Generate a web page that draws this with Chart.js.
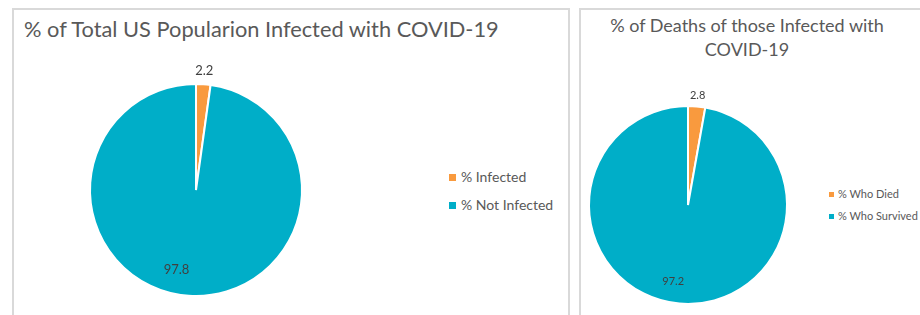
<!DOCTYPE html>
<html>
<head>
<meta charset="utf-8">
<script src="https://cdn.jsdelivr.net/npm/chart.js@4.4.0/dist/chart.umd.min.js"></script>
<style>
  body { margin: 0; width: 920px; height: 315px; overflow: hidden; background: #fff; position: relative; font-family: Lato, "Open Sans", sans-serif; color: #595959; }
  .panel { position: absolute; border: 2px solid #d9d9d9; border-bottom: none; box-sizing: border-box; }
  #p1 { left: 12px; top: 8px; width: 558px; height: 320px; }
  #p2 { left: 579px; top: 8px; width: 360px; height: 320px; }
  .title1 { position: absolute; left: 24px; top: 15px; font-size: 21.8px; white-space: nowrap; }
  .title2 { position: absolute; left: 590px; width: 314px; top: 13px; font-size: 18px; line-height: 24px; text-align: center; }
  .legend { position: absolute; white-space: nowrap; }
  .legend div { position: relative; }
  .legend span.box { display: inline-block; }
  #lg1 { left: 449px; top: 163px; font-size: 14px; line-height: 28px; }
  #lg1 span.box { width: 7px; height: 7px; margin-right: 5px; vertical-align: 1px; }
  #lg2 { left: 829px; top: 183px; font-size: 11px; line-height: 22px; }
  #lg2 span.box { width: 5px; height: 5px; margin-right: 4px; vertical-align: 1px; }
  canvas { position: absolute; }
  #c1 { left: 46px; top: 40px; }
  #c2 { left: 558px; top: 75px; }
</style>
</head>
<body>
<div class="panel" id="p1"></div>
<div class="panel" id="p2"></div>
<div class="title1">% of Total US Popularion Infected with COVID-19</div>
<div class="title2">% of Deaths of those Infected with<br>COVID-19</div>
<div class="legend" id="lg1"></div>
<div class="legend" id="lg2"></div>
<canvas id="c1" width="300" height="300" style="width:300px;height:300px"></canvas>
<canvas id="c2" width="260" height="260" style="width:260px;height:260px"></canvas>
<script>
const infectLabels = ['% Infected', '% Not Infected'];
const infectValues = [2.2, 97.8];
const deathLabels = ['% Who Died', '% Who Survived'];
const deathValues = [2.8, 97.2];
const sliceColors = ['#f99a3e', '#00aec8'];

// value labels: outside for the thin slice, inside for the big one
const sliceLabels = {
    id: 'sliceLabels',
    afterDatasetsDraw(chart, args, opts) {
        const ctx = chart.ctx;
        const meta = chart.getDatasetMeta(0);
        const values = chart.data.datasets[0].data;
        ctx.save();
        ctx.font = opts.size + 'px Lato';
        ctx.fillStyle = '#404040';
        ctx.textAlign = 'center';
        ctx.textBaseline = 'middle';
        meta.data.forEach((arc, i) => {
            const p = arc.getProps(['x', 'y', 'startAngle', 'endAngle', 'outerRadius']);
            const mid = (p.startAngle + p.endAngle) / 2;
            const r = p.outerRadius * opts.dist[i];
            ctx.fillText(values[i].toFixed(1), p.x + Math.cos(mid) * r + opts.dx[i], p.y + Math.sin(mid) * r);
        });
        ctx.restore();
    }
};

function makePie(id, labels, values, pad, labelOpts) {
    return new Chart(document.getElementById(id), {
        type: 'pie',
        data: {
            labels: labels,
            datasets: [{
                data: values,
                backgroundColor: sliceColors,
                borderColor: '#ffffff',
                borderWidth: 2
            }]
        },
        options: {
            responsive: false,
            animation: false,
            layout: { padding: pad },
            plugins: {
                legend: { display: false },
                tooltip: { enabled: false },
                sliceLabels: labelOpts
            }
        },
        plugins: [sliceLabels]
    });
}

function makeLegend(id, labels) {
    const el = document.getElementById(id);
    labels.forEach((lab, i) => {
        const row = document.createElement('div');
        row.innerHTML = '<span class="box" style="background:' + sliceColors[i] + '"></span>' + lab;
        el.appendChild(row);
    });
}

makePie('c1', infectLabels, infectValues, 43, { size: 13, dist: [1.13, 0.754], dx: [0, -14] });
makePie('c2', deathLabels, deathValues, 30, { size: 11, dist: [1.106, 0.78], dx: [0, -8] });
makeLegend('lg1', infectLabels);
makeLegend('lg2', deathLabels);
</script>
</body>
</html>
